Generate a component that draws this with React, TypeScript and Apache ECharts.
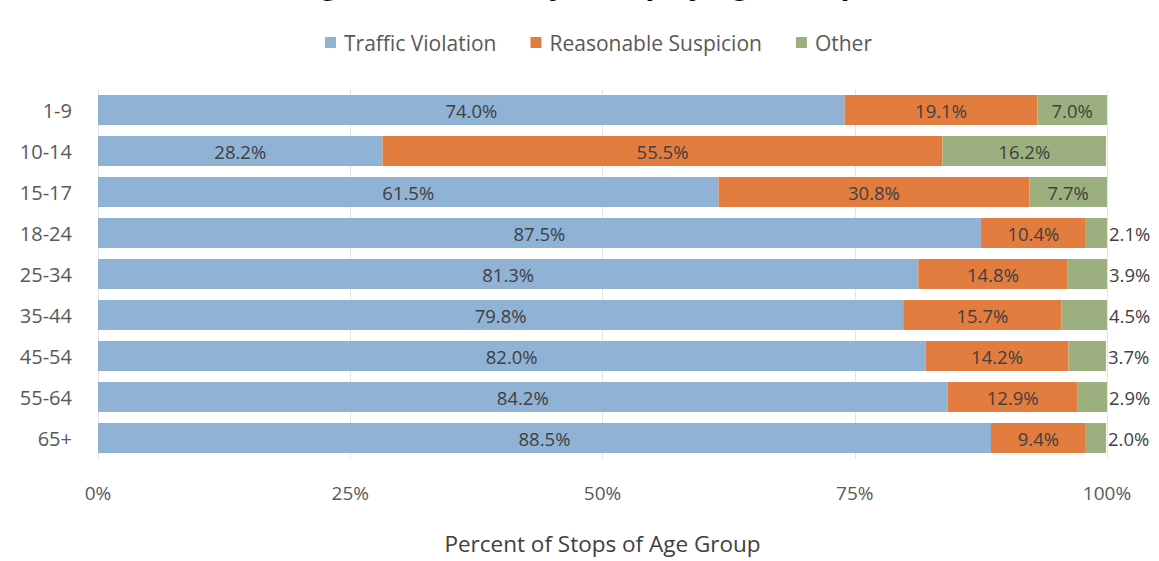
import React, { useEffect, useRef } from "react";
import * as echarts from "echarts";

const categories = ["1-9", "10-14", "15-17", "18-24", "25-34", "35-44", "45-54", "55-64", "65+"];
const trafficViolation = [74.0, 28.2, 61.5, 87.5, 81.3, 79.8, 82.0, 84.2, 88.5];
const reasonableSuspicion = [19.1, 55.5, 30.8, 10.4, 14.8, 15.7, 14.2, 12.9, 9.4];
const other = [7.0, 16.2, 7.7, 2.1, 3.9, 4.5, 3.7, 2.9, 2.0];
const xTicks = [0, 25, 50, 75, 100];

const FONT = "'Open Sans', sans-serif";
const LABEL_COLOR = "#404040";
const AXIS_COLOR = "#595959";

export default function App() {
  const ref = useRef<HTMLDivElement>(null);
  useEffect(() => {
    if (!ref.current) return;
    const chart = echarts.init(ref.current, null, { renderer: "svg" });
    const fmt = (p: any) => Number(p.value).toFixed(1) + "%";
    const inside = { show: true, position: "inside", formatter: fmt, color: LABEL_COLOR, fontSize: 18.5, fontFamily: FONT };
    chart.setOption({
      animation: false,
      textStyle: { fontFamily: FONT },
      graphic: [
        {
          type: "text",
          left: "center",
          top: -33,
          style: {
            text: "Figure 12: Reason for Stop by Age Group",
            font: "italic bold 30px 'Open Sans', sans-serif",
            fill: "#000",
          },
        },
      ],
      legend: {
        top: 27,
        left: 320,
        itemWidth: 11,
        itemHeight: 11,
        itemGap: 34,
        icon: "rect",
        textStyle: { color: AXIS_COLOR, fontSize: 21, fontFamily: FONT, padding: [0, 0, 0, 3] },
        data: ["Traffic Violation", "Reasonable Suspicion", "Other"],
      },
      grid: { left: 98, right: 52, top: 89.5, bottom: 102.5, containLabel: false },
      xAxis: {
        type: "value",
        min: 0,
        max: 100,
        interval: 25,
        axisLine: { show: false },
        axisTick: { show: false },
        splitLine: { show: true, lineStyle: { color: "#E3E3E3", width: 1 } },
        axisLabel: {
          color: AXIS_COLOR,
          fontSize: 19,
          fontFamily: FONT,
          margin: 25,
          formatter: (v: number) => (xTicks.includes(v) ? v + "%" : ""),
        },
        name: "Percent of Stops of Age Group",
        nameLocation: "middle",
        nameGap: 73,
        nameTextStyle: { color: LABEL_COLOR, fontSize: 22.5, fontFamily: FONT },
      },
      yAxis: {
        type: "category",
        inverse: true,
        data: categories,
        axisLine: { show: false },
        axisTick: { show: false },
        axisLabel: { color: AXIS_COLOR, fontSize: 20, fontFamily: FONT, margin: 26 },
      },
      series: [
        {
          name: "Traffic Violation",
          type: "bar",
          stack: "total",
          barCategoryGap: "27%",
          itemStyle: { color: "#8FB2D5" },
          label: inside,
          data: trafficViolation,
        },
        {
          name: "Reasonable Suspicion",
          type: "bar",
          stack: "total",
          itemStyle: { color: "#E27D3F" },
          label: inside,
          data: reasonableSuspicion,
        },
        {
          name: "Other",
          type: "bar",
          stack: "total",
          itemStyle: { color: "#9CB07F" },
          label: inside,
          data: other.map((v) =>
            v < 5
              ? { value: v, label: { show: true, position: "right", distance: 2, color: LABEL_COLOR, fontSize: 18.5, fontFamily: FONT, formatter: fmt } }
              : { value: v }
          ),
        },
      ],
    });
    return () => chart.dispose();
  }, []);
  return <div ref={ref} style={{ position: "fixed", left: 0, top: 0, width: 1159, height: 561, background: "#fff" }} />;
}
